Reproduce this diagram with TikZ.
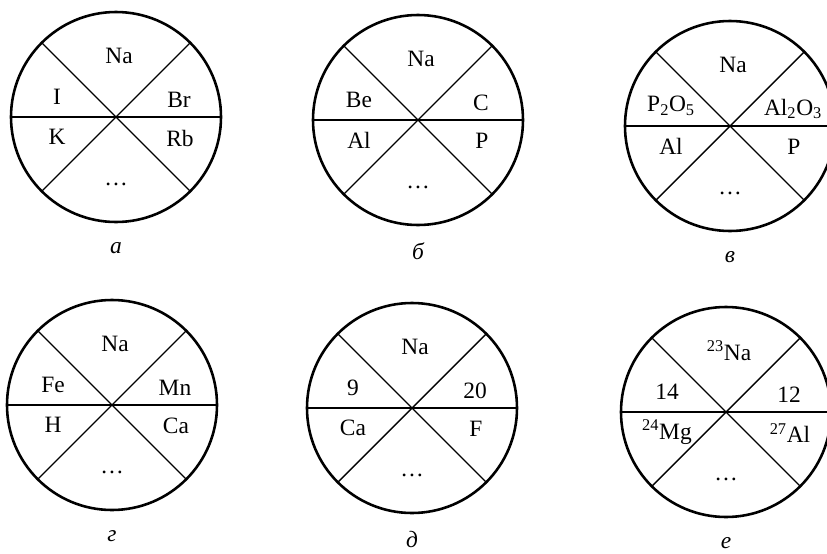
\documentclass[tikz,border=0pt]{standalone}
\usepackage{fontspec}
\setmainfont{Liberation Serif}
\begin{document}
\begin{tikzpicture}[x=0.03cm,y=-0.03cm,
  ring/.style={line width=2.2pt},
  split/.style={line width=1.2pt},
  el/.style={font=\fontsize{20}{22}\selectfont,inner sep=1pt},
  tag/.style={font=\fontsize{20}{22}\selectfont\itshape,inner sep=0pt}]
\useasboundingbox (0,0) rectangle (827,554);
\clip (0,0) rectangle (827,554);
% six circles: name/centre/top/upper left/upper right/lower left/lower right/caption
\foreach \n/\cx/\cy/\t/\ul/\ur/\ll/\lr/\lab in {
  a/116/117/Na/I/Br/K/Rb/а,
  b/418/120/Na/Be/C/Al/P/б,
  v/730/126/Na/{P\textsubscript{2}O\textsubscript{5}}/{Al\textsubscript{2}O\textsubscript{3}}/Al/P/в,
  g/112/405/Na/Fe/Mn/H/Ca/г,
  d/412/408/Na/9/20/Ca/F/д,
  e/726/412/{\textsuperscript{23}Na}/14/12/{\textsuperscript{24}Mg}/{\textsuperscript{27}Al}/е}{
  \coordinate (\n) at (\cx,\cy);
  \draw[ring] (\n) circle (105);
  \draw[split] ([shift={(180:105)}]\n) -- ([shift={(0:105)}]\n);
  \draw[split] ([shift={(135:105)}]\n) -- ([shift={(-45:105)}]\n);
  \draw[split] ([shift={(45:105)}]\n) -- ([shift={(225:105)}]\n);
  \node[el] (\n-top) at ([shift={(3,-61)}]\n) {\t};
  \node[el] (\n-ul) at ([shift={(-59,-20)}]\n) {\ul};
  \node[el] (\n-ur) at ([shift={(63,-17)}]\n) {\ur};
  \node[el] (\n-ll) at ([shift={(-59,20)}]\n) {\ll};
  \node[el] (\n-lr) at ([shift={(64,21)}]\n) {\lr};
  \node[el] (\n-dots) at ([shift={(0,67)}]\n) {\dots};
  \node[tag] (\n-tag) at ([shift={(0,131)}]\n) {\lab};
}
\end{tikzpicture}
\end{document}
